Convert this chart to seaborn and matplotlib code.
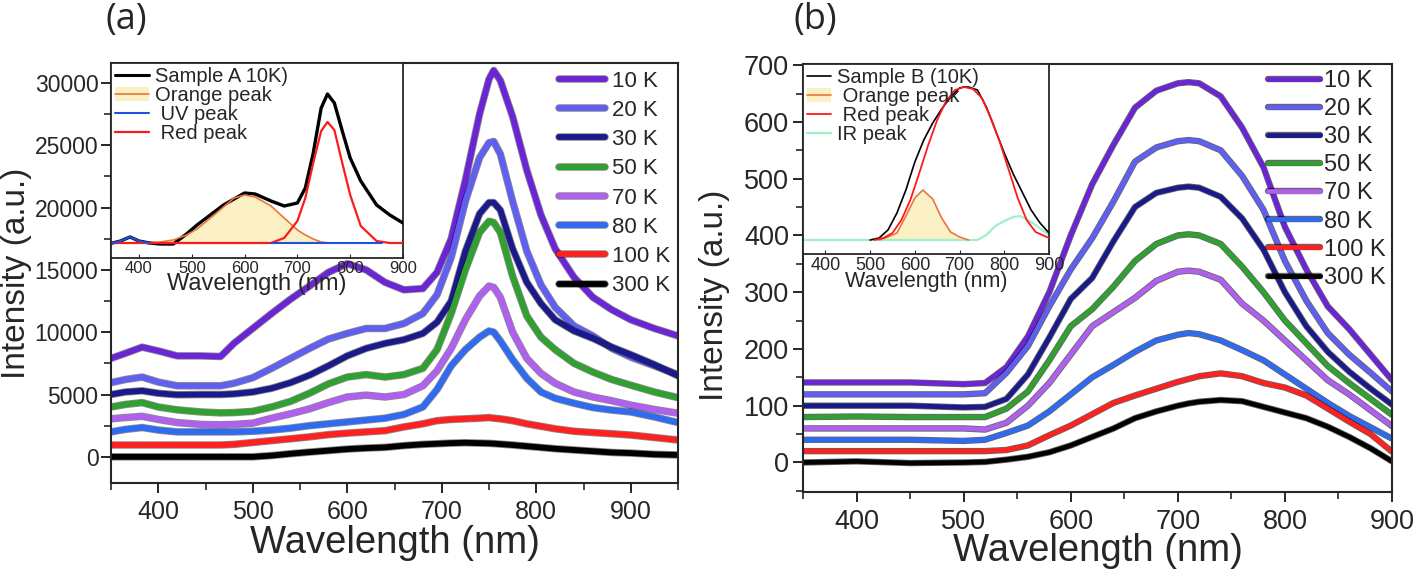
import matplotlib
matplotlib.use("Agg")
import matplotlib.pyplot as plt
import seaborn as sns
import numpy as np
from matplotlib import patheffects as pe
from matplotlib.lines import Line2D
from matplotlib.patches import Patch
from matplotlib.ticker import MultipleLocator

sns.set_style("ticks")
plt.rcParams['font.family'] = ['Liberation Sans', 'DejaVu Sans']

# ---------------- data : panel (a) ----------------
temps = ["10 K", "20 K", "30 K", "50 K", "70 K", "80 K", "100 K", "300 K"]
colors = ["#6b24d6", "#5f5ff2", "#1a1a8a", "#30a030", "#b060f0", "#2f6bf2", "#ff2020", "#000000"]

wl_a = [350, 365, 383, 400, 420, 445, 466, 480, 500, 520, 540, 560, 580, 600, 620, 640, 660, 680, 695,
        710, 725, 740, 750, 755, 762, 775, 790, 805, 820, 840, 860, 880, 900, 925, 950]
a_10K = [7900, 8300, 8800, 8500, 8100, 8100, 8050, 9100, 10300, 11500, 12650, 13700, 14800, 15500, 15000,
         14000, 13400, 13500, 14800, 17500, 22200, 27500, 30300, 31000, 30200, 27300, 23000, 19400, 16700,
         14400, 12800, 11800, 11000, 10300, 9700]
a_20K = [5950, 6200, 6400, 6000, 5700, 5700, 5700, 5900, 6350, 7100, 7900, 8700, 9450, 9900, 10300, 10300,
         10700, 11500, 13000, 16000, 20500, 24000, 25200, 25300, 24300, 20500, 16500, 13800, 12000, 10500,
         9700, 8700, 8000, 7300, 6600]
a_30K = [5000, 5200, 5300, 5100, 4980, 5000, 5000, 5050, 5200, 5500, 5950, 6550, 7300, 8100, 8700, 9100,
         9400, 9900, 10800, 12500, 16500, 19500, 20400, 20400, 19800, 16700, 14000, 12300, 11000, 10100,
         9500, 8800, 8200, 7400, 6500]
a_50K = [4000, 4200, 4350, 4000, 3770, 3600, 3530, 3550, 3650, 4000, 4450, 5100, 5850, 6400, 6600, 6400,
         6600, 7100, 8600, 11500, 15000, 18000, 18900, 18800, 18000, 14500, 11300, 9600, 8600, 7500, 6800,
         6200, 5750, 5200, 4750]
a_70K = [3050, 3150, 3250, 3000, 2750, 2600, 2570, 2600, 2700, 3100, 3450, 3850, 4350, 4800, 4950, 4800,
         5000, 5700, 6900, 8700, 11000, 12900, 13700, 13600, 12800, 10000, 7900, 6700, 5900, 5200, 4800,
         4500, 4150, 3800, 3500]
a_80K = [2000, 2200, 2350, 2150, 2000, 2000, 2000, 2000, 2050, 2150, 2300, 2500, 2650, 2800, 2950, 3100,
         3400, 4000, 5400, 7300, 8600, 9600, 10100, 10000, 9300, 7800, 6300, 5200, 4700, 4300, 3950, 3750,
         3600, 3200, 2750]
a_100K = [950, 950, 950, 950, 950, 950, 950, 1000, 1150, 1300, 1450, 1600, 1780, 1900, 2000, 2100, 2400,
          2650, 2900, 3000, 3050, 3100, 3150, 3100, 3050, 2900, 2650, 2450, 2250, 2050, 1950, 1850, 1750,
          1550, 1350]
a_300K = [0, 0, 0, 0, 0, 0, 0, 0, 0, 100, 250, 380, 500, 620, 700, 760, 900, 1000, 1050, 1100, 1130, 1100,
          1080, 1060, 1020, 950, 850, 750, 650, 550, 450, 350, 300, 200, 150]
series_a = [a_10K, a_20K, a_30K, a_50K, a_70K, a_80K, a_100K, a_300K]

# inset (a)
ins_a_wl = [350, 365, 383, 400, 420, 440, 465, 490, 510, 540, 560, 580, 600, 620, 650, 675, 700, 715, 730,
            745, 757, 770, 785, 800, 820, 850, 875, 900]
ins_a_sample = [0, 2, 6, 2, 0, -1, -1, 9, 18, 30, 38, 44, 50, 49, 42, 37, 40, 55, 90, 135, 149, 140, 112,
                85, 62, 38, 28, 20]
ins_a_red = [0, 0, 0, 0, 0, 0, 0, 0, 0, 0, 0, 0, 0, 0, 0, 5, 22, 45, 80, 112, 121, 113, 80, 48, 17, 2, 0, 0]
ins_a_or_wl = [420, 440, 465, 490, 510, 540, 560, 580, 600, 620, 650, 675, 700, 715, 730, 745, 760]
ins_a_orange = [0, 1, 3, 8, 14, 27, 36, 45, 48, 46, 37, 25, 13, 8, 4, 1, 0]
ins_a_uv_wl1 = [350, 365, 383, 400, 420]
ins_a_uv1 = [0, 2, 6, 2, 0]
ins_a_uv_wl2 = [650, 860]
ins_a_uv2 = [0, 0]

# ---------------- data : panel (b) ----------------
wl_b = [350, 400, 450, 500, 520, 540, 560, 580, 600, 620, 640, 660, 680, 700, 710, 720, 740, 760, 780,
        800, 820, 840, 860, 880, 900]
b_10K = [141, 141, 141, 138, 140, 168, 222, 300, 400, 490, 560, 625, 655, 668, 670, 668, 645, 590, 520,
         415, 340, 275, 235, 190, 145]
b_20K = [120, 120, 120, 120, 122, 158, 205, 275, 340, 395, 460, 530, 555, 566, 568, 566, 550, 505, 445,
         355, 285, 228, 190, 158, 125]
b_30K = [100, 100, 100, 97, 98, 112, 155, 220, 288, 325, 390, 450, 475, 484, 486, 484, 468, 430, 375,
         300, 240, 195, 160, 130, 102]
b_50K = [80, 81, 80, 80, 80, 95, 125, 180, 240, 270, 310, 355, 385, 400, 402, 400, 385, 345, 300, 250,
         210, 170, 140, 112, 84]
b_70K = [60, 60, 60, 60, 58, 70, 100, 140, 190, 240, 265, 290, 320, 336, 338, 336, 322, 280, 250, 215,
         180, 145, 120, 92, 64]
b_80K = [40, 40, 40, 38, 40, 52, 65, 90, 120, 150, 172, 195, 215, 225, 228, 226, 215, 198, 180, 155, 130,
         105, 82, 62, 42]
b_100K = [20, 20, 20, 20, 20, 22, 30, 48, 65, 85, 105, 118, 130, 142, 147, 152, 157, 152, 140, 132, 118,
          95, 72, 50, 19]
b_300K = [0, 2, -1, 0, 1, 5, 10, 18, 30, 45, 60, 78, 90, 100, 104, 107, 110, 108, 98, 88, 78, 63, 45, 25, 2]
series_b = [b_10K, b_20K, b_30K, b_50K, b_70K, b_80K, b_100K, b_300K]

# inset (b)
ins_b_s_wl = [500, 520, 540, 560, 580, 600, 620, 640, 660, 680, 700, 710, 720, 740, 760, 780, 800, 820,
              840, 860, 880, 900]
ins_b_sample = [0, 2, 10, 27, 50, 78, 100, 117, 131, 143, 152, 153, 153, 150, 133, 110, 87, 66, 48, 30,
                17, 7]
ins_b_r_wl = [510, 530, 550, 570, 590, 610, 630, 650, 670, 690, 710, 730, 750, 770, 790, 810, 830, 850,
              870, 900]
ins_b_red = [0, 2, 7, 20, 40, 67, 95, 120, 139, 150, 153, 151, 142, 122, 98, 70, 42, 20, 8, 2]
ins_b_o_wl = [520, 540, 560, 580, 600, 618, 640, 660, 680, 700, 720]
ins_b_orange = [0, 3, 7, 24, 42, 50, 41, 22, 8, 3, 0]
ins_b_ir_wl = [350, 450, 550, 650, 740, 760, 780, 800, 820, 835, 850, 870, 885, 900]
ins_b_ir = [0, 0, 0, 0, 0, 5, 14, 19, 23, 24, 21, 15, 10, 5]

ORANGE = "#e8763a"
FILL = "#fbefc4"

# ---------------- figure ----------------
W, H = 1418, 570
fig = plt.figure(figsize=(W / 100, H / 100), dpi=100)


def px_axes(l, t, r, b):
    return fig.add_axes([l / W, 1 - b / H, (r - l) / W, (b - t) / H])


def style_main(ax, xl, yl, xmaj, xmin, ymaj, ymin, xls, yls):
    ax.set_xlim(*xl)
    ax.set_ylim(*yl)
    ax.xaxis.set_major_locator(MultipleLocator(xmaj))
    ax.xaxis.set_minor_locator(MultipleLocator(xmin))
    ax.yaxis.set_major_locator(MultipleLocator(ymaj))
    ax.yaxis.set_minor_locator(MultipleLocator(ymin))
    for s in ax.spines.values():
        s.set_linewidth(1.5)
        s.set_visible(True)
    ax.tick_params(which='major', direction='out', length=7, width=1.4, pad=3)
    ax.tick_params(which='minor', direction='out', length=5, width=1.2)
    ax.tick_params(axis='x', labelsize=xls, pad=5)
    ax.tick_params(axis='y', labelsize=yls)
    ax.tick_params(top=False, right=False, which='both')


def draw_series(ax, wl, series, lw, edge_alpha):
    for vals, c, lab in zip(series, colors, temps):
        sns.lineplot(x=wl, y=vals, ax=ax, color=c, lw=lw, label=lab, legend=False, sort=False,
                     path_effects=[pe.Stroke(linewidth=lw + 1.2, foreground='black', alpha=edge_alpha),
                                   pe.Normal()])


# ---- panel (a) main ----
axA = px_axes(111, 63, 678, 483)
draw_series(axA, wl_a, series_a, 4.2, 0.45)
style_main(axA, (350, 950), (-2100, 31600), 100, 50, 5000, 2500, 18, 16.5)
axA.tick_params(axis='y', pad=2)
axA.set_xlabel("Wavelength (nm)", fontsize=27.5)
axA.set_ylabel("Intensity (a.u.)", fontsize=24)
axA.xaxis.set_label_coords(0.5, -0.1)
axA.yaxis.set_label_coords(-0.14, 0.5)
hA, lA = axA.get_legend_handles_labels()
axA.legend(hA, lA, loc='upper right', fontsize=16, frameon=False, handlelength=2.1,
           handletextpad=0.3, labelspacing=0.37, borderpad=0.25, borderaxespad=0.1)

# ---- panel (a) inset ----
iA = px_axes(111, 63, 403, 258)
iA.set_facecolor('white')
iA.fill_between(ins_a_or_wl, 0, ins_a_orange, color=FILL, lw=0, zorder=1)
sns.lineplot(x=ins_a_wl, y=ins_a_sample, ax=iA, color='black', lw=2.4, sort=False, zorder=3)
sns.lineplot(x=ins_a_or_wl, y=ins_a_orange, ax=iA, color=ORANGE, lw=1.2, sort=False, zorder=4)
sns.lineplot(x=ins_a_wl, y=ins_a_red, ax=iA, color='#ff1a1a', lw=1.6, sort=False, zorder=5)
sns.lineplot(x=ins_a_uv_wl1, y=ins_a_uv1, ax=iA, color='#2050e0', lw=1.5, sort=False, zorder=6)
sns.lineplot(x=ins_a_uv_wl2, y=ins_a_uv2, ax=iA, color='#2050e0', lw=1.5, sort=False, zorder=6)
iA.set_xlim(347, 900)
iA.set_ylim(-15, 180)
iA.set_yticks([])
iA.set_xticks([400, 500, 600, 700, 800, 900])
iA.tick_params(axis='x', direction='in', length=3, labelsize=12, pad=2)
for s in iA.spines.values():
    s.set_linewidth(1.3)
iA.set_xlabel("Wavelength (nm)", fontsize=17, labelpad=-2)
iA.set_ylabel("")
legA = [Line2D([], [], color='black', lw=2.2),
        (Patch(facecolor=FILL, edgecolor='none'), Line2D([], [], color=ORANGE, lw=1.2)),
        Line2D([], [], color='#2050e0', lw=1.5),
        Line2D([], [], color='#ff1a1a', lw=1.6)]
iA.legend(legA, ["Sample A 10K)", "Orange peak", " UV peak", " Red peak"], loc='upper left',
          fontsize=14.5, frameon=False, handlelength=1.7, handletextpad=0.3, labelspacing=0.0,
          borderpad=0.2, borderaxespad=0.0)

# ---- panel (b) main ----
axB = px_axes(803, 64, 1392, 492)
draw_series(axB, wl_b, series_b, 3.4, 0.6)
style_main(axB, (350, 900), (-52, 702), 100, 50, 100, 50, 19.5, 19.5)
axB.set_xlabel("Wavelength (nm)", fontsize=27.5)
axB.set_ylabel("Intensity (a.u.)", fontsize=24)
axB.xaxis.set_label_coords(0.5, -0.095)
axB.yaxis.set_label_coords(-0.124, 0.46)
hB, lB = axB.get_legend_handles_labels()
axB.legend(hB, lB, loc='upper right', fontsize=17, frameon=False, handlelength=2.2,
           handletextpad=0.2, labelspacing=0.26, borderpad=0.25, borderaxespad=0.0)

# ---- panel (b) inset ----
iB = px_axes(803, 64, 1049, 254)
iB.set_facecolor('white')
iB.fill_between(ins_b_o_wl, 0, ins_b_orange, color=FILL, lw=0, zorder=1)
sns.lineplot(x=ins_b_ir_wl, y=ins_b_ir, ax=iB, color='#9ff0c4', lw=1.6, sort=False, zorder=2)
sns.lineplot(x=ins_b_s_wl, y=ins_b_sample, ax=iB, color='black', lw=1.2, sort=False, zorder=3)
sns.lineplot(x=ins_b_o_wl, y=ins_b_orange, ax=iB, color=ORANGE, lw=1.2, sort=False, zorder=4)
sns.lineplot(x=ins_b_r_wl, y=ins_b_red, ax=iB, color='#ff1a1a', lw=1.3, sort=False, zorder=5)
iB.set_xlim(350, 900)
iB.set_ylim(-14, 176)
iB.set_yticks([])
iB.set_xticks([400, 500, 600, 700, 800, 900])
iB.tick_params(axis='x', direction='in', length=3, labelsize=13, pad=2)
for s in iB.spines.values():
    s.set_linewidth(1.3)
iB.set_xlabel("Wavelength (nm)", fontsize=15.5, labelpad=-2)
iB.set_ylabel("")
legB = [Line2D([], [], color='black', lw=1.2),
        (Patch(facecolor=FILL, edgecolor='none'), Line2D([], [], color=ORANGE, lw=1.2)),
        Line2D([], [], color='#ff1a1a', lw=1.3),
        Line2D([], [], color='#9ff0c4', lw=1.6)]
iB.legend(legB, ["Sample B (10K)", " Orange peak", " Red peak", "IR peak"], loc='upper left',
          fontsize=14.5, frameon=False, handlelength=1.2, handletextpad=0.3, labelspacing=0.0,
          borderpad=0.2, borderaxespad=0.0)

# panel labels
fig.text(126 / W, 1 - 20 / H, "(a)", fontsize=26, family=['Open Sans', 'DejaVu Sans'],
         ha='center', va='center')
fig.text(815 / W, 1 - 20 / H, "(b)", fontsize=26, family=['Open Sans', 'DejaVu Sans'],
         ha='center', va='center')

fig.savefig("out.png", dpi=100)
